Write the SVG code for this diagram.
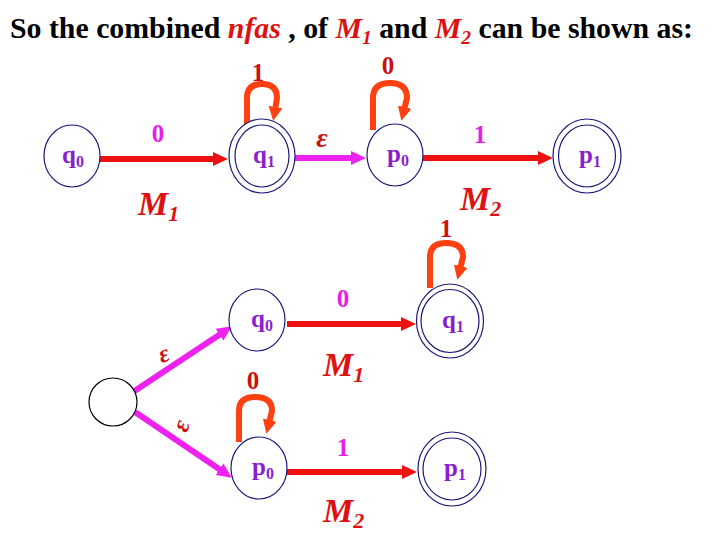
<svg xmlns="http://www.w3.org/2000/svg" width="720" height="540" viewBox="0 0 720 540">
<defs>
<style>
.st{fill:#fff;stroke:#1a1a7a;stroke-width:1.2}
.lbl{font-family:"Liberation Serif",serif;font-weight:bold;font-size:25px;fill:#8a1fd0}
.sub{font-size:16px}
.red{stroke:#ee1111;stroke-width:6;fill:none}
.mag{stroke:#ee22ee;stroke-width:6;fill:none}
.loop{stroke:#ff4010;stroke-width:6;fill:none;stroke-linejoin:round}
.dig{font-family:"Liberation Serif",serif;font-weight:bold;font-size:25px;text-anchor:middle}
.dm{fill:#e61ee6}
.dr{fill:#cc1111}
.M{font-family:"Liberation Serif",serif;font-weight:bold;font-style:italic;font-size:34px;fill:#dd1111}
.eps{font-family:"Liberation Serif",serif;font-weight:bold;font-style:italic;font-size:28px;fill:#cc1111;text-anchor:middle}
.eps2{font-family:"Liberation Serif",serif;font-weight:bold;font-style:italic;font-size:25px;fill:#cc1111;text-anchor:middle}
</style>
<marker id="ar" markerUnits="userSpaceOnUse" markerWidth="16" markerHeight="16" refX="3" refY="8" orient="auto"><path d="M0,1 L15,8 L0,15 z" fill="#ee1111"/></marker>
<marker id="am" markerUnits="userSpaceOnUse" markerWidth="16" markerHeight="16" refX="3" refY="8" orient="auto"><path d="M0,1 L15,8 L0,15 z" fill="#ee22ee"/></marker>
<marker id="al" markerUnits="userSpaceOnUse" markerWidth="16" markerHeight="16" refX="3" refY="8" orient="auto"><path d="M0,1 L14,8 L0,15 z" fill="#ff4010"/></marker>
</defs>
<rect width="720" height="540" fill="#fff"/>
<text x="10" y="38" font-family="Liberation Serif,serif" font-weight="bold" font-size="29" fill="#000" textLength="683" lengthAdjust="spacingAndGlyphs">So the combined <tspan fill="#dd1111" font-style="italic">nfas</tspan> , of <tspan fill="#dd1111" font-style="italic">M<tspan font-size="19" dy="6">1</tspan></tspan><tspan dy="-6"> and </tspan><tspan fill="#dd1111" font-style="italic">M<tspan font-size="19" dy="6">2</tspan></tspan><tspan dy="-6"> can be shown as:</tspan></text>
<g id="connectors">
<path class="red" d="M100,159 L216,159" marker-end="url(#ar)"/>
<path class="mag" d="M295,158 L354,158" marker-end="url(#am)"/>
<path class="red" d="M423,158 L541,158" marker-end="url(#ar)"/>
<path class="loop" d="M247,130 L247,98 Q247,84 262,84 Q277,84 277,98 L275,110" marker-end="url(#al)"/>
<path class="loop" d="M373,130 L373,98 Q373,83 390,83 Q407,83 407,98 L404,110" marker-end="url(#al)"/>
<path class="mag" d="M133,392 L222,333" marker-end="url(#am)"/>
<path class="mag" d="M135,412 L222,471" marker-end="url(#am)"/>
<path class="red" d="M287,324 L404,324" marker-end="url(#ar)"/>
<path class="red" d="M287,472 L405,472" marker-end="url(#ar)"/>
<path class="loop" d="M430,288 L430,257 Q430,243 446,243 Q463,243 463,257 L460,269" marker-end="url(#al)"/>
<path class="loop" d="M239,442 L239,411 Q239,397 255,397 Q272,397 272,411 L269,423" marker-end="url(#al)"/>
</g>
<g id="q0_top"><ellipse class="st" cx="72" cy="156" rx="28" ry="31"/><text class="lbl" x="62" y="163">q<tspan class="sub" dy="4">0</tspan></text></g>
<g id="q1_top"><ellipse class="st" cx="262" cy="156" rx="33" ry="37"/><ellipse class="st" cx="262" cy="156" rx="27" ry="31"/><text class="lbl" x="253" y="163">q<tspan class="sub" dy="4">1</tspan></text></g>
<g id="p0_top"><ellipse class="st" cx="395" cy="155" rx="28" ry="31"/><text class="lbl" x="387" y="162">p<tspan class="sub" dy="4">0</tspan></text></g>
<g id="p1_top"><ellipse class="st" cx="587" cy="156" rx="34" ry="37"/><ellipse class="st" cx="587" cy="156" rx="28.5" ry="31"/><text class="lbl" x="579" y="163">p<tspan class="sub" dy="4">1</tspan></text></g>
<g id="start"><ellipse cx="113" cy="402" rx="24" ry="24" fill="#fff" stroke="#000" stroke-width="1.2"/></g>
<g id="q0_bot"><ellipse class="st" cx="257" cy="320" rx="28" ry="31"/><text class="lbl" x="251" y="327">q<tspan class="sub" dy="4">0</tspan></text></g>
<g id="p0_bot"><ellipse class="st" cx="259" cy="468" rx="28" ry="31"/><text class="lbl" x="252" y="475">p<tspan class="sub" dy="4">0</tspan></text></g>
<g id="q1_bot"><ellipse class="st" cx="450" cy="321" rx="33.5" ry="37"/><ellipse class="st" cx="450" cy="321" rx="29" ry="31.5"/><text class="lbl" x="442" y="328">q<tspan class="sub" dy="4">1</tspan></text></g>
<g id="p1_bot"><ellipse class="st" cx="452" cy="469" rx="34" ry="37"/><ellipse class="st" cx="452" cy="469" rx="29" ry="31"/><text class="lbl" x="444" y="476">p<tspan class="sub" dy="4">1</tspan></text></g>
<g id="labels">
<text class="dig dm" x="158" y="142">0</text>
<text class="dig dr" x="258" y="81">1</text>
<text class="eps" x="322" y="147">ε</text>
<text class="dig dr" x="388" y="74">0</text>
<text class="dig dm" x="480" y="143">1</text>
<text class="M" x="138" y="215">M<tspan font-size="22" dy="6">1</tspan></text>
<text class="M" x="460" y="210">M<tspan font-size="22" dy="6">2</tspan></text>
<text class="dig dr" x="446" y="237">1</text>
<text class="dig dm" x="343" y="307">0</text>
<text class="M" x="323" y="376">M<tspan font-size="22" dy="6">1</tspan></text>
<text class="dig dr" x="253" y="389">0</text>
<text class="dig dm" x="343" y="456">1</text>
<text class="M" x="323" y="522">M<tspan font-size="22" dy="6">2</tspan></text>
<text class="eps2" transform="translate(164,355) rotate(-20)" y="7">ε</text>
<text class="eps2" transform="translate(182,426) rotate(-70)" y="7">ε</text>
</g>
</svg>
